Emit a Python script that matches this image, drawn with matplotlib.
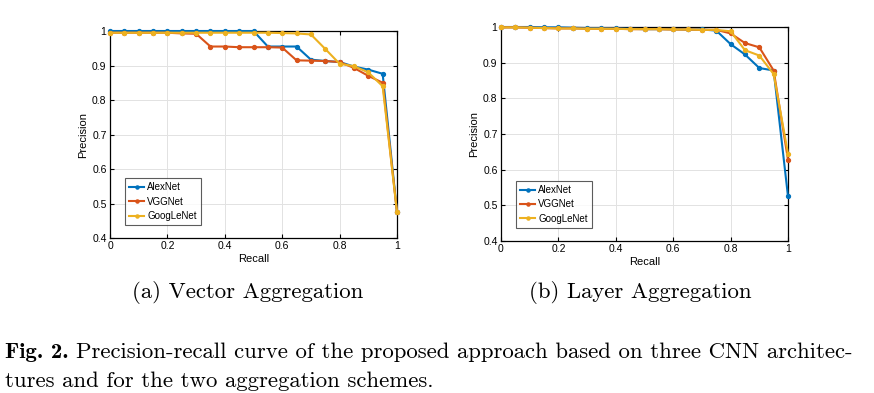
import matplotlib
matplotlib.use("Agg")
import matplotlib.pyplot as plt
import numpy as np

recall = [0, 0.05, 0.1, 0.15, 0.2, 0.25, 0.3, 0.35, 0.4, 0.45, 0.5,
          0.55, 0.6, 0.65, 0.7, 0.75, 0.8, 0.85, 0.9, 0.95, 1.0]

vec_alexnet = [1.0, 1.0, 1.0, 1.0, 1.0, 1.0, 1.0, 1.0, 1.0, 1.0, 1.0,
               0.955, 0.955, 0.955, 0.917, 0.913, 0.910, 0.897, 0.888, 0.876, 0.475]
vec_vggnet = [0.995, 0.995, 0.995, 0.995, 0.995, 0.993, 0.992, 0.955, 0.955, 0.953, 0.953,
              0.953, 0.952, 0.915, 0.914, 0.913, 0.910, 0.893, 0.870, 0.850, 0.475]
vec_googlenet = [0.995, 0.995, 0.995, 0.995, 0.995, 0.995, 0.995, 0.995, 0.995, 0.995, 0.995,
                 0.995, 0.994, 0.993, 0.990, 0.948, 0.905, 0.898, 0.880, 0.840, 0.475]

lay_alexnet = [1.0, 1.0, 1.0, 0.999, 0.999, 0.998, 0.997, 0.997, 0.996, 0.995, 0.994,
               0.994, 0.994, 0.993, 0.993, 0.990, 0.952, 0.923, 0.885, 0.878, 0.525]
lay_vggnet = [0.999, 0.999, 0.998, 0.997, 0.996, 0.996, 0.995, 0.995, 0.995, 0.994, 0.994,
              0.994, 0.993, 0.993, 0.992, 0.992, 0.982, 0.955, 0.943, 0.878, 0.628]
lay_googlenet = [0.999, 0.999, 0.998, 0.997, 0.996, 0.996, 0.995, 0.995, 0.995, 0.994, 0.994,
                 0.994, 0.993, 0.993, 0.992, 0.992, 0.988, 0.935, 0.920, 0.868, 0.645]

series_names = ["AlexNet", "VGGNet", "GoogLeNet"]
colors = ["#0072BD", "#D95319", "#EDB120"]
xticks = [0, 0.2, 0.4, 0.6, 0.8, 1]
xticklabels = ["0", "0.2", "0.4", "0.6", "0.8", "1"]
yticks = [0.4, 0.5, 0.6, 0.7, 0.8, 0.9, 1.0]
yticklabels = ["0.4", "0.5", "0.6", "0.7", "0.8", "0.9", "1"]

W, H = 874, 393
fig = plt.figure(figsize=(W / 100, H / 100), dpi=100)
fig.patch.set_facecolor("white")

sans = ["Liberation Sans", "DejaVu Sans"]


def make_axes(rect, data, caption, cap_x):
    ax = fig.add_axes(rect)
    for vals, name, c in zip(data, series_names, colors):
        ax.plot(recall, vals, color=c, lw=1.5, marker="o", ms=2.8,
                mec=c, mfc=c, label=name, clip_on=False, zorder=3)
    ax.set_xlim(0, 1)
    ax.set_ylim(0.4, 1.0)
    ax.set_xticks(xticks)
    ax.set_xticklabels(xticklabels, fontfamily=sans, fontsize=7.5)
    ax.set_yticks(yticks)
    ax.set_yticklabels(yticklabels, fontfamily=sans, fontsize=7.5)
    ax.tick_params(direction="in", length=3, width=0.8, top=True, right=True, pad=2.5)
    ax.grid(True, color="#e2e2e2", lw=0.7, ls="-")
    ax.set_axisbelow(True)
    for s in ax.spines.values():
        s.set_linewidth(0.9)
        s.set_zorder(2.5)
    ax.set_xlabel("Recall", fontfamily=sans, fontsize=8, labelpad=2)
    ax.set_ylabel("Precision", fontfamily=sans, fontsize=8, labelpad=3)
    leg = ax.legend(loc="lower left", bbox_to_anchor=(0.035, 0.04), prop={"family": sans, "size": 7},
                    frameon=True, fancybox=False, edgecolor="#333333", handlelength=1.6,
                    handletextpad=0.3, borderpad=0.4, labelspacing=0.45, markerscale=0.8)
    leg.get_frame().set_linewidth(0.8)
    leg.set_zorder(5)
    fig.text(cap_x / W, 1 - 293 / H, caption, family="cmr10", fontsize=16.4,
             ha="center", va="center")
    return ax


ax1 = make_axes([110 / W, 1 - 238 / H, 287 / W, 207 / H],
                [vec_alexnet, vec_vggnet, vec_googlenet], "(a) Vector Aggregation", 248)
ax2 = make_axes([501 / W, 1 - 241 / H, 287 / W, 214 / H],
                [lay_alexnet, lay_vggnet, lay_googlenet], "(b) Layer Aggregation", 640)

# Figure caption
t1 = fig.text(5 / W, 1 - 352 / H, "Fig. 2.", family="cmb10", fontsize=16.4, va="center", ha="left")
fig.canvas.draw()
r = fig.canvas.get_renderer()
bb = t1.get_window_extent(r)
fig.text((bb.x1 + 7) / W, 1 - 352 / H,
         "Precision-recall curve of the proposed approach based on three CNN architec-",
         family="cmr10", fontsize=16.4, va="center", ha="left")
fig.text(5 / W, 1 - 381 / H, "tures and for the two aggregation schemes.",
         family="cmr10", fontsize=16.4, va="center", ha="left")

fig.savefig("out.png", dpi=100)
